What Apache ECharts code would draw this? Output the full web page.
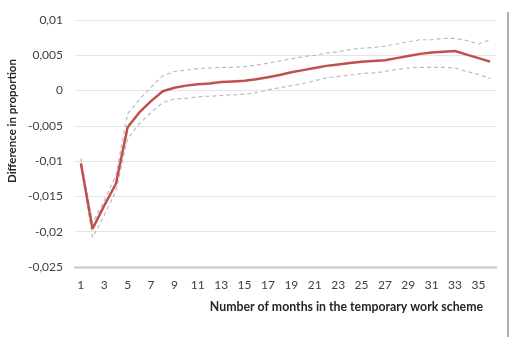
<!DOCTYPE html>
<html>
<head>
<meta charset="utf-8">
<script src="https://cdn.jsdelivr.net/npm/echarts@6/dist/echarts.min.js"></script>
<style>
  html, body { margin: 0; padding: 0; background: #fff; }
  #chart { width: 513px; height: 337px; }
</style>
</head>
<body>
<div id="chart"></div>
<script>
// months 1..36
const months = []
for (let m = 1; m <= 36; m++) months.push(String(m))

const estimate = [-0.0103, -0.0196, -0.0163, -0.0132, -0.0052, -0.0031, -0.0015, -0.0001, 0.0004, 0.0007,
  0.0009, 0.001, 0.0012, 0.0013, 0.0014, 0.0016, 0.0019, 0.0022, 0.0026, 0.0029,
  0.0032, 0.0035, 0.0037, 0.0039, 0.0041, 0.0042, 0.0043, 0.0046, 0.0049, 0.0052,
  0.0054, 0.0055, 0.0056, 0.0051, 0.0046, 0.0041]

const upper = [-0.0096, -0.0188, -0.0156, -0.012, -0.0033, -0.0013, 0.0005, 0.0021, 0.0027, 0.0029,
  0.0031, 0.0032, 0.0033, 0.0033, 0.0034, 0.0036, 0.0039, 0.0042, 0.0045, 0.0048,
  0.005, 0.0053, 0.0055, 0.0058, 0.006, 0.0061, 0.0063, 0.0066, 0.0069, 0.0072,
  0.0072, 0.0074, 0.0074, 0.0071, 0.0066, 0.0072]

const lower = [-0.0105, -0.0208, -0.0177, -0.0142, -0.0068, -0.0047, -0.0031, -0.0017, -0.0012, -0.0011,
  -0.0009, -0.0008, -0.0007, -0.0006, -0.0005, -0.0003, 0.0001, 0.0004, 0.0007, 0.001,
  0.0014, 0.0018, 0.002, 0.0022, 0.0024, 0.0025, 0.0027, 0.003, 0.0032, 0.0033,
  0.0033, 0.0033, 0.0032, 0.0027, 0.0023, 0.0017]

const font = 'Lato, "Open Sans", sans-serif'
const chart = echarts.init(document.getElementById('chart'))

const dashed = {
  type: 'line',
  symbol: 'none',
  silent: true,
  lineStyle: { color: '#bdbdbd', width: 1.2, type: [4, 3] },
  z: 2
}

chart.setOption({
  animation: false,
  grid: { left: 75, right: 17, top: 20, bottom: 70, containLabel: false },
  xAxis: {
    type: 'category',
    data: months,
    boundaryGap: true,
    axisLine: { onZero: false, lineStyle: { color: '#d0d0d0', width: 2.5 } },
    axisTick: { show: false },
    axisLabel: { interval: 1, color: '#404040', fontFamily: font, fontSize: 12, margin: 12 }
  },
  yAxis: {
    type: 'value',
    min: -0.025,
    max: 0.01,
    interval: 0.005,
    axisLine: { show: false },
    axisTick: { show: false },
    splitLine: { lineStyle: { color: '#e4e4e4', width: 1 } },
    axisLabel: {
      color: '#404040',
      fontFamily: font,
      fontSize: 12,
      margin: 12,
      formatter: v => String(parseFloat(v.toFixed(4))).replace('.', ',')
    }
  },
  graphic: [
    {
      type: 'text',
      x: 12, y: 121,
      rotation: Math.PI / 2,
      style: {
        text: 'Difference in proportion',
        fill: '#262626',
        font: 'bold 11.5px ' + font,
        textAlign: 'center',
        textVerticalAlign: 'middle'
      }
    },
    {
      type: 'text',
      x: 483, y: 307,
      style: {
        text: 'Number of months in the temporary work scheme',
        fill: '#262626',
        font: 'bold 12.3px ' + font,
        textAlign: 'right',
        textVerticalAlign: 'middle'
      }
    },
    {
      type: 'line',
      shape: { x1: 508, y1: 12, x2: 508, y2: 337 },
      style: { stroke: '#b0b0b0', lineWidth: 2 }
    }
  ],
  series: [
    Object.assign({ name: 'upper', data: upper }, dashed),
    Object.assign({ name: 'lower', data: lower }, dashed),
    {
      name: 'estimate',
      type: 'line',
      symbol: 'none',
      data: estimate,
      lineStyle: { color: '#c0504d', width: 2.5 },
      z: 3
    }
  ]
})
</script>
</body>
</html>
